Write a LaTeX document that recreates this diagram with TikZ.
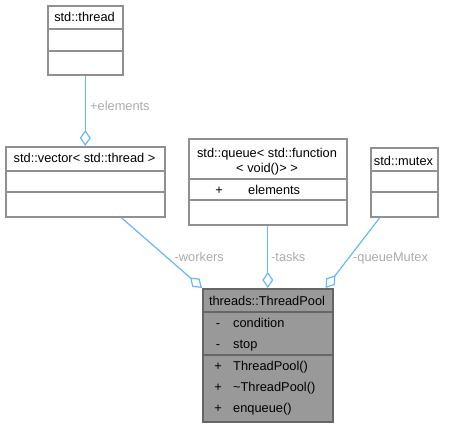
\documentclass[tikz,border=0pt]{standalone}
\usepackage{fontspec}
\setmainfont{Liberation Sans}
\usetikzlibrary{arrows.meta}
\definecolor{edgeblue}{HTML}{63B8FF}
\definecolor{boxline}{HTML}{909090}
\definecolor{poolfill}{HTML}{999999}
\definecolor{poolline}{HTML}{666666}
\definecolor{labelgrey}{HTML}{ABABAB}
\begin{document}
\begin{tikzpicture}[x=1pt,y=-1pt,
  font=\fontsize{12.8}{14}\selectfont,
  classbox/.style={draw=boxline, line width=1.6pt, fill=white, inner sep=0pt, anchor=north west},
  poolbox/.style={draw=poolline, line width=1.6pt, fill=poolfill, inner sep=0pt, anchor=north west},
  divider/.style={boxline, line width=1.6pt},
  pooldivider/.style={poolline, line width=1.6pt},
  txt/.style={inner sep=0pt, text=black, text height=10pt, text depth=1.5pt},
  lefttxt/.style={txt, anchor=west},
  rolelabel/.style={inner sep=0pt, text=labelgrey, text height=10pt, text depth=1.5pt},
  assoc/.style={draw=edgeblue, line width=1.2pt, -{Diamond[open, length=16pt, width=11pt]}}]
\useasboundingbox (0,0) rectangle (450,427);

% std::thread
\node[classbox, minimum width=75pt, minimum height=69pt] (thread) at (47,5) {};
\draw[divider] (47,29) -- (122,29) (47,51) -- (122,51);
\node[txt] (threadname) at (84.5,17.5) {std::thread};

% std::vector< std::thread >
\node[classbox, minimum width=159pt, minimum height=70pt] (vector) at (5,146) {};
\draw[divider] (5,171) -- (164,171) (5,192) -- (164,192);
\node[txt] (vectorname) at (84.5,158.5) {std::vector< std::thread >};

% std::queue< std::function< void()> >
\node[classbox, minimum width=158pt, minimum height=86pt] (queue) at (188,138) {};
\draw[divider] (188,179) -- (346,179) (188,200) -- (346,200);
\node[txt] (queuename1) at (267,153) {std::queue< std::function};
\node[txt] (queuename2) at (267,168) {< void()> >};
\node[txt] (queuevis) at (219,190) {+};
\node[lefttxt] (queueattr) at (248,190) {elements};

% std::mutex
\node[classbox, minimum width=67pt, minimum height=69pt] (mutex) at (370,147) {};
\draw[divider] (370,171) -- (437,171) (370,192) -- (437,192);
\node[txt] (mutexname) at (403.5,161) {std::mutex};

% threads::ThreadPool
\node[poolbox, minimum width=130pt, minimum height=133pt] (pool) at (202,288) {};
\draw[pooldivider] (202,312) -- (332,312) (202,355) -- (332,355);
\node[txt] (poolname) at (267,301.5) {threads::ThreadPool};
\node[txt] (v1) at (218,323) {-};
\node[lefttxt] (m1) at (233,323) {condition};
\node[txt] (v2) at (218,344) {-};
\node[lefttxt] (m2) at (233,344) {stop};
\node[txt] (v3) at (218,366) {+};
\node[lefttxt] (m3) at (233,366) {ThreadPool()};
\node[txt] (v4) at (218,387) {+};
\node[lefttxt] (m4) at (233,387) {\textasciitilde ThreadPool()};
\node[txt] (v5) at (218,408) {+};
\node[lefttxt] (m5) at (233,408) {enqueue()};

% associations
\draw[assoc] (thread.south) -- (vector.north);
\node[rolelabel, anchor=west] (lblelements) at (90,106) {+elements};

\draw[assoc] ([xshift=36pt]vector.south) -- (pool.north west);
\node[rolelabel, anchor=east] (lblworkers) at (224,257) {-workers};

\draw[assoc] (queue.south) -- (pool.north);
\node[rolelabel, anchor=west] (lbltasks) at (271,257) {-tasks};

\draw[assoc] ([xshift=-24.5pt]mutex.south) -- ([xshift=-8pt]pool.north east);
\node[rolelabel, anchor=west] (lblmutex) at (353,257) {-queueMutex};
\end{tikzpicture}
\end{document}
